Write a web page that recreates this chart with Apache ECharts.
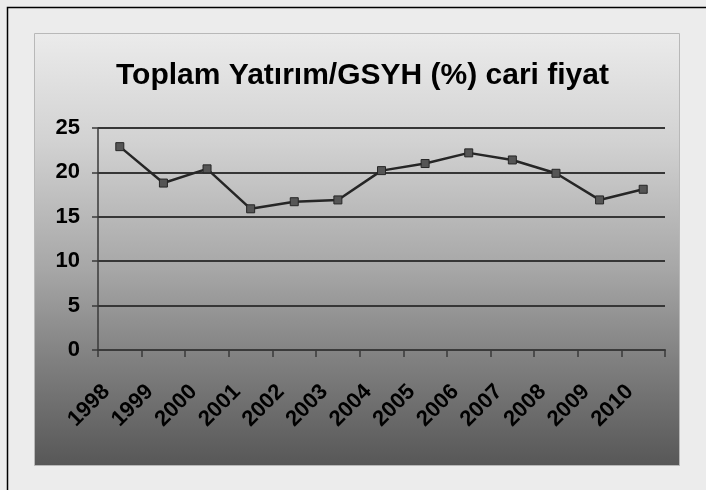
<!DOCTYPE html>
<html>
<head>
<meta charset="utf-8">
<script src="https://cdn.jsdelivr.net/npm/echarts@6/dist/echarts.min.js"></script>
<style>
  html, body { margin: 0; padding: 0; background: #ececec; }
  #main { width: 706px; height: 490px; }
</style>
</head>
<body>
<div id="main"></div>
<script>
// veriler
var years = ['1998', '1999', '2000', '2001', '2002', '2003', '2004', '2005', '2006', '2007', '2008', '2009', '2010'];
var yatirimOrani = [22.9, 18.8, 20.4, 15.9, 16.7, 16.9, 20.2, 21.0, 22.2, 21.4, 19.9, 16.9, 18.1];
var yTicks = [0, 5, 10, 15, 20, 25];

var labelFont = {
    fontFamily: 'Liberation Sans, Arial, sans-serif',
    fontWeight: 'bold',
    fontSize: 22,
    color: '#000'
};

var myChart = echarts.init(document.getElementById('main'));
myChart.setOption({
    backgroundColor: '#ececec',
    animation: false,
    graphic: [
        {
            type: 'rect',
            z: -100,
            shape: { x: 7.5, y: 7.5, width: 720, height: 500 },
            style: { fill: '#ececec', stroke: '#000', lineWidth: 1.5 }
        },
        {
            type: 'rect',
            z: -90,
            shape: { x: 34.5, y: 33.5, width: 645, height: 432 },
            style: {
                fill: new echarts.graphic.LinearGradient(0, 0, 0, 1, [
                    { offset: 0, color: '#ebebeb' },
                    { offset: 0.25, color: '#d2d2d2' },
                    { offset: 0.55, color: '#a6a6a6' },
                    { offset: 0.75, color: '#818181' },
                    { offset: 1, color: '#575757' }
                ]),
                stroke: '#b8b8b8',
                lineWidth: 1
            }
        }
    ],
    title: {
        text: 'Toplam Yatırım/GSYH (%) cari fiyat',
        left: 111,
        top: 56,
        textStyle: {
            fontFamily: 'Liberation Sans, Arial, sans-serif',
            fontWeight: 'bold',
            fontSize: 30,
            color: '#000'
        }
    },
    grid: {
        left: 98,
        right: 41,
        top: 128,
        bottom: 140
    },
    xAxis: {
        type: 'category',
        data: years,
        boundaryGap: true,
        axisLine: { lineStyle: { color: '#3a3a3a', width: 2 } },
        axisTick: { show: true, length: 7, interval: 0, lineStyle: { color: '#3a3a3a', width: 1.5 } },
        axisLabel: Object.assign({
            interval: 0,
            rotate: 45,
            margin: 25,
            padding: [0, 19, 0, 0]
        }, labelFont),
        splitLine: { show: false }
    },
    yAxis: {
        type: 'value',
        min: yTicks[0],
        max: yTicks[yTicks.length - 1],
        interval: 5,
        axisLine: { show: true, lineStyle: { color: '#3a3a3a', width: 1.5 } },
        axisTick: { show: true, length: 6, lineStyle: { color: '#3a3a3a', width: 1.5 } },
        axisLabel: Object.assign({ margin: 18 }, labelFont),
        splitLine: { show: true, lineStyle: { color: '#363636', width: 2 } }
    },
    series: [{
        type: 'line',
        data: yatirimOrani,
        symbol: 'rect',
        symbolSize: 8,
        lineStyle: { color: '#262626', width: 2.5 },
        itemStyle: { color: '#555', borderColor: '#262626', borderWidth: 1 }
    }]
});
</script>
</body>
</html>
